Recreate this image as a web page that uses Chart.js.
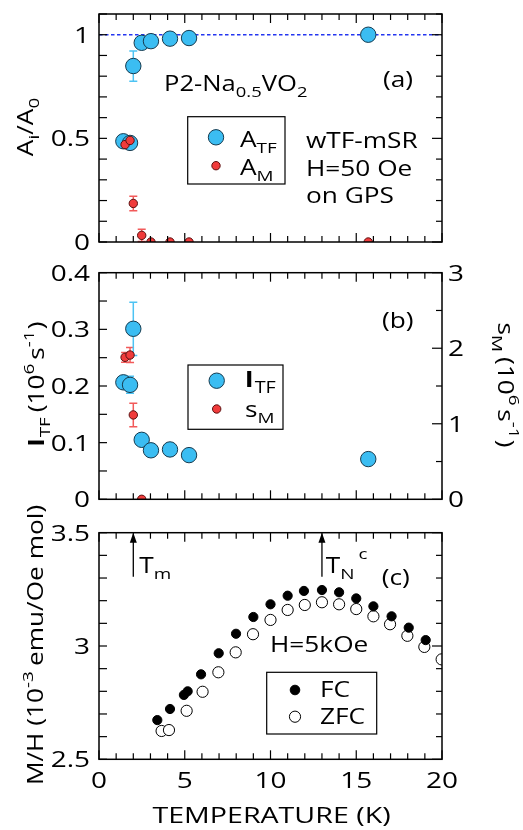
<!DOCTYPE html>
<html>
<head>
<meta charset="utf-8">
<script src="https://cdn.jsdelivr.net/npm/chart.js@4.4.0/dist/chart.umd.min.js"></script>
<style>
  body { margin: 0; background: #fff; }
  #wrap { position: relative; width: 523px; height: 830px; }
  #wrap canvas { position: absolute; left: 0; top: 0; }
</style>
</head>
<body>
<div id="wrap">
  <canvas id="pa" width="523" height="830"></canvas>
  <canvas id="pb" width="523" height="830"></canvas>
  <canvas id="pc" width="523" height="830"></canvas>
</div>
<script>
// ---- data ----
// (a) asymmetries
const tempTF = [1.42, 1.81, 2.0, 2.49, 3.03, 4.14, 5.25, 15.7];
const aTF    = [0.486, 0.478, 0.849, 0.961, 0.969, 0.981, 0.984, 1.0];
const aTFerr = [0, 0, 0.073, 0, 0, 0, 0, 0];
const tempM  = [1.52, 1.81, 2.0, 2.49, 3.03, 4.14, 5.25, 15.7];
const aM     = [0.47, 0.49, 0.186, 0.032, 0, 0, 0, 0];
const aMerr  = [0, 0, 0.035, 0.03, 0, 0, 0, 0];
const unityT = [0, 20];
const unityA = [1, 1];

// (b) relaxation rates
const lamTF    = [0.2065, 0.202, 0.301, 0.105, 0.0865, 0.088, 0.078, 0.071];
const lamTFerr = [0, 0.015, 0.047, 0, 0, 0, 0, 0];
const tempSig  = [1.52, 1.81, 2.0, 2.49];
const sigM     = [1.88, 1.91, 1.117, 0];
const sigMerr  = [0.065, 0.1, 0.155, 0];

// (c) susceptibility
const tempFC = [3.40, 4.14, 4.95, 5.17, 5.95, 6.98, 7.99, 9.0, 10.0, 11.0, 11.95, 13.0, 14.0, 15.0, 16.0, 17.06, 18.06, 19.05];
const mhFC   = [2.673, 2.722, 2.784, 2.80, 2.875, 2.968, 3.054, 3.128, 3.184, 3.222, 3.243, 3.247, 3.237, 3.21, 3.175, 3.131, 3.081, 3.026];
const tempZFC = [3.65, 4.08, 5.11, 6.04, 6.96, 7.97, 8.98, 10.0, 11.0, 12.0, 13.0, 14.0, 15.0, 16.0, 16.97, 17.98, 18.97, 19.98];
const mhZFC   = [2.625, 2.629, 2.714, 2.798, 2.884, 2.972, 3.052, 3.115, 3.159, 3.181, 3.193, 3.184, 3.163, 3.131, 3.096, 3.045, 2.996, 2.941];
const arrowT = [2, 13];   // T_m and T_N^c

// tick labels
const tempTicks = [0, 5, 10, 15, 20];
const aTicks    = [0, 0.5, 1];
const lamTicks  = [0, 0.1, 0.2, 0.3, 0.4];
const sigTicks  = [0, 1, 2, 3];
const mhTicks   = [2.5, 3, 3.5];

const FONT = "'Open Sans', sans-serif";
Chart.defaults.font.family = FONT;
Chart.defaults.color = '#000';

const BLUE = '#3bbdf2', RED = '#f03b3b';
const BLUE_ERR = '#4dc3f3', RED_ERR = '#f25a5a';
const SX = 1.25;   // the original lettering is wider than Open Sans

const pts = (xs, ys) => xs.map((x, i) => ({x: x, y: ys[i]}));
const has = (list, v) => list.some(t => Math.abs(t - v) < 1e-6);
const fmt = v => String(Number(v.toFixed(2)));

function partFont(p, size) {
  const kind = p[1];
  const sz = (kind === 'sub' || kind === 'sup') ? size * 0.72 : size;
  return (kind === 'b' ? 'bold ' : '') + sz + 'px ' + FONT;
}
function richWidth(ctx, parts, size, sx) {
  let w = 0;
  parts.forEach(p => { ctx.font = partFont(p, size); w += ctx.measureText(p[0]).width + (p[2] || 0); });
  return w * sx;
}
// text with sub / superscripts: parts = [[text, 'sub'|'sup'|'b', extraGap], ...]
function rich(ctx, x, y, parts, size, rot, sx, align) {
  sx = sx || SX;
  const w = richWidth(ctx, parts, size, sx);
  ctx.save();
  ctx.translate(x, y);
  if (rot) ctx.rotate(rot);
  if (align === 'center') ctx.translate(-w / 2, 0);
  if (align === 'right') ctx.translate(-w, 0);
  ctx.scale(sx, 1);
  ctx.textBaseline = 'alphabetic';
  ctx.textAlign = 'left';
  let cx = 0;
  parts.forEach(p => {
    ctx.font = partFont(p, size);
    const dy = p[1] === 'sub' ? size * 0.28 : p[1] === 'sup' ? -size * 0.5 : 0;
    ctx.fillText(p[0], cx, dy);
    cx += ctx.measureText(p[0]).width + (p[2] || 0);
  });
  ctx.restore();
}
// vertical text centred on (x, cy)
function vtext(ctx, x, cy, parts, size, dir) {
  const w = richWidth(ctx, parts, size, SX);
  if (dir < 0) rich(ctx, x, cy + w / 2, parts, size, -Math.PI / 2);
  else rich(ctx, x, cy - w / 2, parts, size, Math.PI / 2);
}
function dot(ctx, x, y, r, fill, stroke) {
  ctx.beginPath();
  ctx.arc(x, y, r, 0, Math.PI * 2);
  ctx.fillStyle = fill; ctx.fill();
  ctx.lineWidth = 1; ctx.strokeStyle = stroke; ctx.stroke();
}

// frame, inward ticks on all four sides, tick labels
function frameTicks(yMajors, y2Majors, xLabels) {
  return {
    id: 'frameTicks',
    afterDraw(chart) {
      const {ctx, chartArea: a, scales} = chart;
      const seg = (x1, y1, x2, y2) => { ctx.beginPath(); ctx.moveTo(x1, y1); ctx.lineTo(x2, y2); ctx.stroke(); };
      const x = scales.x, y = scales.y, y2 = scales.y2;
      ctx.save();
      ctx.strokeStyle = '#000';
      ctx.lineWidth = 1.2;
      x.ticks.forEach(t => {
        const px = x.getPixelForValue(t.value);
        const len = has(tempTicks, t.value) ? 9 : 6;
        seg(px, a.bottom, px, a.bottom - len);
        seg(px, a.top, px, a.top + len);
      });
      y.ticks.forEach(t => {
        const py = y.getPixelForValue(t.value);
        seg(a.left, py, a.left + 8, py);
        if (!y2) seg(a.right, py, a.right - (has(yMajors, t.value) ? 10 : 6), py);
      });
      if (y2) y2.ticks.forEach(t => {
        const py = y2.getPixelForValue(t.value);
        seg(a.right, py, a.right - (has(y2Majors, t.value) ? 10 : 6), py);
      });
      ctx.lineWidth = 1.5;
      ctx.strokeRect(a.left, a.top, a.right - a.left, a.bottom - a.top);

      ctx.fillStyle = '#000';
      yMajors.forEach(v => rich(ctx, a.left - 9, y.getPixelForValue(v) + 8, [[fmt(v)]], 22, 0, 1.27, 'right'));
      if (y2) y2Majors.forEach(v => rich(ctx, a.right + 6, y2.getPixelForValue(v) + 8, [[fmt(v)]], 22, 0, 1.27));
      if (xLabels) xLabels.forEach(v => rich(ctx, x.getPixelForValue(v), a.bottom + 29, [[fmt(v)]], 22, 0, 1.27, 'center'));
      ctx.restore();
    }
  };
}

// vertical error bars taken from dataset.errs
const errBars = {
  id: 'errBars',
  beforeDatasetsDraw(chart) {
    const ctx = chart.ctx;
    ctx.save();
    ctx.lineWidth = 1.5;
    chart.data.datasets.forEach(ds => {
      if (!ds.errs) return;
      const ys = chart.scales[ds.yAxisID || 'y'];
      const xs = chart.scales.x;
      ctx.strokeStyle = ds.errColor;
      ds.data.forEach((p, i) => {
        const e = ds.errs[i];
        if (!e) return;
        const px = xs.getPixelForValue(p.x);
        const t = ys.getPixelForValue(p.y + e), b = ys.getPixelForValue(p.y - e);
        ctx.beginPath();
        ctx.moveTo(px, t); ctx.lineTo(px, b);
        ctx.moveTo(px - 4, t); ctx.lineTo(px + 4, t);
        ctx.moveTo(px - 4, b); ctx.lineTo(px + 4, b);
        ctx.stroke();
      });
    });
    ctx.restore();
  }
};

function xScale(bottom) {
  return {
    type: 'linear', min: 0, max: 20,
    afterFit: s => { s.height = 830 - bottom; },
    grid: { display: false, drawTicks: false },
    border: { display: false },
    ticks: { stepSize: 1, autoSkip: false, maxRotation: 0, callback: () => '' }
  };
}
function yScale(min, max, step, width, pos) {
  return {
    type: 'linear', position: pos || 'left', min: min, max: max,
    afterFit: s => { s.width = width; },
    grid: { display: false, drawTicks: false },
    border: { display: false },
    ticks: { stepSize: step, autoSkip: false, callback: () => '' }
  };
}
function baseOptions(top, rightPad, scales) {
  return {
    responsive: false, animation: false, events: [],
    layout: { padding: { top: top, right: rightPad, left: 0, bottom: 0 } },
    plugins: { legend: { display: false }, tooltip: { enabled: false } },
    scales: scales
  };
}
function notePlugin(fn) {
  return { id: 'notes', afterDraw: chart => {
    const ctx = chart.ctx;
    ctx.save(); ctx.fillStyle = '#000'; ctx.strokeStyle = '#000';
    fn(ctx, chart);
    ctx.restore();
  } };
}

// ---------- panel (a) ----------
new Chart(document.getElementById('pa'), {
  type: 'scatter',
  data: {
    datasets: [
      { label: 'A_M', data: pts(tempM, aM), errs: aMerr, errColor: RED_ERR, order: 0,
        pointRadius: 4.2, pointBackgroundColor: RED, pointBorderColor: '#5a1010', pointBorderWidth: 1 },
      { label: 'A_TF', data: pts(tempTF, aTF), errs: aTFerr, errColor: BLUE_ERR, order: 1,
        pointRadius: 7.7, pointBackgroundColor: BLUE, pointBorderColor: '#163a4e', pointBorderWidth: 1 },
      { type: 'line', label: 'unity', data: pts(unityT, unityA), order: 2,
        borderColor: '#2436f0', borderWidth: 1.6, borderDash: [3.5, 2.5], pointRadius: 0 }
    ]
  },
  options: baseOptions(14, 81, { x: xScale(242), y: yScale(0, 1.1, 0.1, 99) }),
  plugins: [errBars, frameTicks(aTicks, null, null), notePlugin((ctx) => {
    vtext(ctx, 33, 127, [['A'], ['i', 'sub'], ['/A'], ['0', 'sub']], 21, -1);
    rich(ctx, 164, 90.7, [['P2-Na'], ['0.5', 'sub'], ['VO'], ['2', 'sub']], 21, 0, 1.22);
    rich(ctx, 383, 87, [['(a)']], 21);
    ctx.lineWidth = 1.2;
    ctx.strokeRect(187.7, 116.7, 97.3, 67.3);
    dot(ctx, 216, 137.3, 7.7, BLUE, '#163a4e');
    dot(ctx, 216, 165.7, 4.2, RED, '#5a1010');
    ctx.fillStyle = '#000';
    rich(ctx, 240, 146.7, [['A'], ['TF', 'sub']], 21);
    rich(ctx, 240, 175, [['A'], ['M', 'sub']], 21);
    rich(ctx, 306, 148.3, [['wTF-mSR']], 21);
    rich(ctx, 306, 175.7, [['H=50 Oe']], 21);
    rich(ctx, 306, 203.3, [['on GPS']], 21);
  })]
});

// ---------- panel (b) ----------
new Chart(document.getElementById('pb'), {
  type: 'scatter',
  data: {
    datasets: [
      { label: 's_M', data: pts(tempSig, sigM), yAxisID: 'y2', errs: sigMerr, errColor: RED_ERR, order: 0,
        pointRadius: 4.2, pointBackgroundColor: RED, pointBorderColor: '#5a1010', pointBorderWidth: 1 },
      { label: 'l_TF', data: pts(tempTF, lamTF), errs: lamTFerr, errColor: BLUE_ERR, order: 1,
        pointRadius: 7.7, pointBackgroundColor: BLUE, pointBorderColor: '#163a4e', pointBorderWidth: 1 }
    ]
  },
  options: baseOptions(272.7, 0, {
    x: xScale(499.3),
    y: yScale(0, 0.4, 0.05, 99),
    y2: yScale(0, 3, 0.5, 81, 'right')
  }),
  plugins: [errBars, frameTicks(lamTicks, sigTicks, null), notePlugin((ctx) => {
    vtext(ctx, 44, 384, [['l', 'b', 1], ['TF', 'sub', 4], ['(10'], ['6', 'sup', 3], ['s'], ['-1', 'sup', 1], [')']], 21, -1);
    vtext(ctx, 498, 385, [['s'], ['M', 'sub', 4], ['(10'], ['6', 'sup', 3], ['s'], ['-1', 'sup', 1], [')']], 21, 1);
    rich(ctx, 382, 328, [['(b)']], 21);
    ctx.lineWidth = 1.2;
    ctx.strokeRect(188, 365, 95, 64.3);
    dot(ctx, 216.7, 380.7, 7.7, BLUE, '#163a4e');
    dot(ctx, 216.7, 409, 4.2, RED, '#5a1010');
    ctx.fillStyle = '#000';
    rich(ctx, 245, 386.7, [['l', 'b', 1], ['TF', 'sub']], 22);
    rich(ctx, 245, 416.7, [['s'], ['M', 'sub']], 21);
  })]
});

// ---------- panel (c) ----------
new Chart(document.getElementById('pc'), {
  type: 'scatter',
  data: {
    datasets: [
      { label: 'FC', data: pts(tempFC, mhFC), order: 0,
        pointRadius: 4.6, pointBackgroundColor: '#000', pointBorderColor: '#000', pointBorderWidth: 1 },
      { label: 'ZFC', data: pts(tempZFC, mhZFC), order: 1,
        pointRadius: 5.6, pointBackgroundColor: '#fff', pointBorderColor: '#000', pointBorderWidth: 1 }
    ]
  },
  options: baseOptions(532.7, 81, { x: xScale(759.3), y: yScale(2.5, 3.5, 0.1, 99) }),
  plugins: [frameTicks(mhTicks, null, tempTicks), notePlugin((ctx, chart) => {
    const xs = chart.scales.x, ys = chart.scales.y;
    vtext(ctx, 43, 645, [['M/H (10'], ['-3', 'sup', 4], ['emu/Oe mol)']], 21, -1);
    // arrows at T_m and T_N^c
    ctx.lineWidth = 1.3;
    arrowT.forEach(t => {
      const px = xs.getPixelForValue(t);
      const y0 = ys.getPixelForValue(3.306), y1 = ys.getPixelForValue(3.5);
      ctx.beginPath(); ctx.moveTo(px, y0); ctx.lineTo(px, y1 + 8); ctx.stroke();
      ctx.beginPath(); ctx.moveTo(px, y1); ctx.lineTo(px - 3.5, y1 + 10); ctx.lineTo(px + 3.5, y1 + 10); ctx.closePath(); ctx.fill();
    });
    rich(ctx, 139.3, 573.3, [['T'], ['m', 'sub']], 21);
    rich(ctx, 325.7, 573.3, [['T'], ['N', 'sub']], 21);
    rich(ctx, 358.5, 559, [['c']], 15);
    rich(ctx, 381.7, 585, [['(c)']], 21);
    rich(ctx, 270, 651.7, [['H=5kOe']], 21);
    ctx.lineWidth = 1.2;
    ctx.strokeRect(266.7, 672.3, 110, 61.7);
    dot(ctx, 295, 690, 4.8, '#000', '#000');
    dot(ctx, 295, 716.7, 5.6, '#fff', '#000');
    ctx.fillStyle = '#000';
    rich(ctx, 320, 697.3, [['FC']], 21);
    rich(ctx, 320, 724, [['ZFC']], 21);
    rich(ctx, 271.5, 823.3, [['TEMPERATURE (K)']], 22, 0, 1.3, 'center');
  })]
});
</script>
</body>
</html>
